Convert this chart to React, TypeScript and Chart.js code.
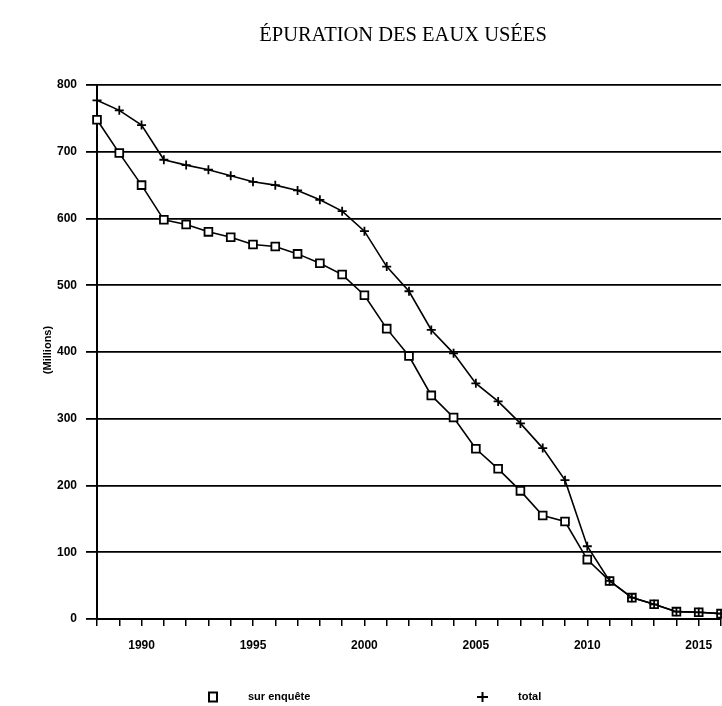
import React, { useEffect, useRef } from "react";
import { Chart, registerables } from "chart.js";

Chart.register(...registerables);

const TITLE = "ÉPURATION DES EAUX USÉES";
const Y_TITLE = "(Millions)";
const years = [1988, 1989, 1990, 1991, 1992, 1993, 1994, 1995, 1996, 1997, 1998, 1999, 2000, 2001, 2002, 2003, 2004, 2005, 2006, 2007, 2008, 2009, 2010, 2011, 2012, 2013, 2014, 2015, 2016];
const surEnquete = [748, 698, 650, 598, 591, 580, 572, 561, 558, 547, 533, 516, 485, 435, 394, 335, 302, 255, 225, 192, 155, 146, 89, 57, 32, 22, 11, 10, 8];
const total = [777, 762, 740, 688, 680, 673, 664, 655, 650, 642, 628, 611, 581, 528, 491, 433, 398, 353, 326, 293, 256, 208, 109, 57, 32, 22, 11, 10, 8];
const seriesNames = ["sur enquête", "total"];
const labeledYears = [1990, 1995, 2000, 2005, 2010, 2015];

const W = 722;
const H = 706;

const decorPlugin = {
  id: "decor",
  afterDraw(chart: any) {
    const ctx = chart.ctx as CanvasRenderingContext2D;
    ctx.save();
    ctx.fillStyle = "#000";
    ctx.strokeStyle = "#000";
    // title
    ctx.font = '20.5px "Liberation Serif", "Times New Roman", serif';
    ctx.textAlign = "center";
    ctx.textBaseline = "alphabetic";
    ctx.fillText(TITLE, 403, 41);
    // y title
    ctx.save();
    ctx.translate(48, 350);
    ctx.rotate(-Math.PI / 2);
    ctx.font = 'bold 11px "Liberation Sans", Arial, sans-serif';
    ctx.textAlign = "center";
    ctx.textBaseline = "middle";
    ctx.fillText(Y_TITLE, 0, 0);
    ctx.restore();
    // legend
    const ly = 697;
    ctx.lineWidth = 2;
    ctx.strokeRect(209, ly - 4.5, 8, 9);
    ctx.beginPath();
    ctx.moveTo(477, ly);
    ctx.lineTo(488, ly);
    ctx.moveTo(482.5, ly - 5);
    ctx.lineTo(482.5, ly + 5);
    ctx.stroke();
    ctx.font = 'bold 11px "Liberation Sans", Arial, sans-serif';
    ctx.textAlign = "left";
    ctx.textBaseline = "middle";
    ctx.fillText(seriesNames[0], 248, ly);
    ctx.fillText(seriesNames[1], 518, ly);
    ctx.restore();
  },
};

export default function App() {
  const ref = useRef<HTMLCanvasElement | null>(null);
  useEffect(() => {
    if (!ref.current) return;
    const chart = new Chart(ref.current, {
      type: "line",
      data: {
        datasets: [
          {
            label: seriesNames[1],
            data: years.map((x, i) => ({ x, y: total[i] })),
            borderColor: "#000",
            borderWidth: 1.6,
            pointStyle: "cross",
            pointRadius: 4.5,
            pointBorderWidth: 1.8,
            pointBorderColor: "#000",
            tension: 0,
            clip: false as any,
          },
          {
            label: seriesNames[0],
            data: years.map((x, i) => ({ x, y: surEnquete[i] })),
            borderColor: "#000",
            borderWidth: 1.6,
            pointStyle: "rect",
            pointRadius: 5.5,
            pointBorderWidth: 1.8,
            pointBorderColor: "#000",
            pointBackgroundColor: "#fff",
            tension: 0,
            clip: false as any,
          },
        ],
      },
      options: {
        animation: false,
        responsive: false,
        maintainAspectRatio: false,
        layout: { autoPadding: false, padding: { top: 85, right: 1, left: 0, bottom: 0 } },
        plugins: {
          legend: { display: false },
          title: { display: false },
          tooltip: { enabled: false },
        },
        scales: {
          x: {
            type: "linear",
            min: years[0],
            max: years[years.length - 1],
            afterFit: (s: any) => {
              s.height = 87;
              s.paddingRight = 0;
              s.paddingLeft = 0;
            },
            afterBuildTicks: (s: any) => {
              s.ticks = years.map((v) => ({ value: v }));
            },
            ticks: {
              autoSkip: false,
              maxRotation: 0,
              padding: 12,
              color: "#000",
              font: { family: '"Liberation Sans", Arial, sans-serif', size: 12, weight: "bold" },
              callback: (v: any) => (labeledYears.includes(Number(v)) ? String(v) : ""),
            },
            grid: {
              drawOnChartArea: false,
              drawTicks: true,
              tickLength: 7,
              color: "#000",
              lineWidth: 1.5,
            },
            border: { display: true, color: "#000", width: 2 },
          },
          y: {
            min: 0,
            max: 800,
            afterFit: (s: any) => {
              s.width = 97;
            },
            ticks: {
              stepSize: 100,
              padding: 9,
              color: "#000",
              font: { family: '"Liberation Sans", Arial, sans-serif', size: 12, weight: "bold" },
            },
            grid: {
              color: "#000",
              lineWidth: 1.8,
              tickLength: 11,
            },
            border: { display: true, color: "#000", width: 2 },
          },
        },
      },
      plugins: [decorPlugin],
    } as any);
    return () => chart.destroy();
  }, []);
  return (
    <div style={{ position: "absolute", left: 0, top: 0, width: W, height: H, background: "#fff" }}>
      <canvas ref={ref} width={W} height={H} style={{ width: W, height: H, display: "block" }} />
    </div>
  );
}
